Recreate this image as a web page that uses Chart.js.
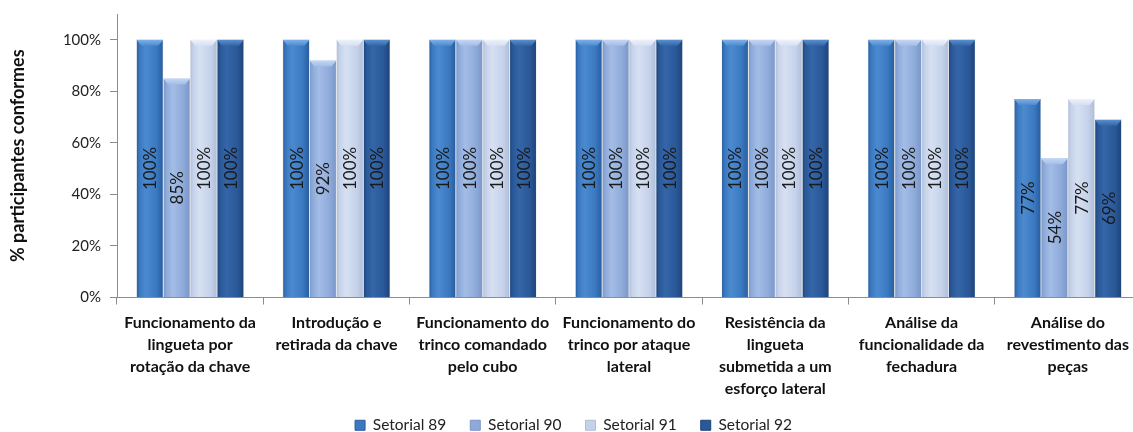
<!DOCTYPE html>
<html><head><meta charset="utf-8">
<script src="https://cdn.jsdelivr.net/npm/chart.js@4.4.1/dist/chart.umd.min.js"></script>
<style>html,body{margin:0;padding:0;overflow:hidden;background:#fff}#wrap{width:1141px;height:432px}</style>
</head><body><div id="wrap"><canvas id="c" width="1141" height="432"></canvas></div>
<script>
const categories = [
  ["Funcionamento da","lingueta por","rotação da chave"],
  ["Introdução e","retirada da chave"],
  ["Funcionamento do","trinco comandado","pelo cubo"],
  ["Funcionamento do","trinco por ataque","lateral"],
  ["Resistência da","lingueta","submetida a um","esforço lateral"],
  ["Análise da","funcionalidade da","fechadura"],
  ["Análise do","revestimento das","peças"]
];
const seriesNames = ["Setorial 89","Setorial 90","Setorial 91","Setorial 92"];
const setorial89 = [100,100,100,100,100,100,77];
const setorial90 = [85,92,100,100,100,100,54];
const setorial91 = [100,100,100,100,100,100,77];
const setorial92 = [100,100,100,100,100,100,69];
const yTicks = [0,20,40,60,80,100];

const palettes = [
  {edge:'#285c9c', mid:'#3a78c0', hi:'#4c8ad0', cap:'#7fb0e6'},
  {edge:'#7a96c8', mid:'#8eaad9', hi:'#a3bde6', cap:'#c4d8f4'},
  {edge:'#aebdd8', mid:'#c5d2ea', hi:'#d6e0f2', cap:'#edf2fa'},
  {edge:'#1d4479', mid:'#2a5898', hi:'#3466a8', cap:'#5a8fd0'}
];
const catPct = 0.735;
const FONT = 'Lato, "Open Sans", sans-serif';

function barGradient(ctx){
  const chart = ctx.chart;
  const p = palettes[ctx.datasetIndex];
  const xs = chart.scales && chart.scales.x;
  if(!xs || !chart.chartArea) return p.mid;
  const catW = xs.width / categories.length;
  const bw = catW*catPct/4;
  const c = xs.getPixelForValue(ctx.dataIndex);
  const left = c - catW*catPct/2 + ctx.datasetIndex*bw;
  const g = chart.ctx.createLinearGradient(left,0,left+bw,0);
  g.addColorStop(0,p.edge);
  g.addColorStop(0.12,p.mid);
  g.addColorStop(0.35,p.hi);
  g.addColorStop(0.75,p.mid);
  g.addColorStop(1,p.edge);
  return g;
}

const labelPlugin = {
  id:'vlabels',
  afterDatasetsDraw(chart){
    const c = chart.ctx;
    chart.data.datasets.forEach((ds,di)=>{
      const meta = chart.getDatasetMeta(di);
      meta.data.forEach((bar,i)=>{
        const p = palettes[di];
        const {x,y,base,width} = bar.getProps(['x','y','base','width'],true);
        const h = 6;
        c.save();
        c.beginPath();
        c.moveTo(x-width/2,y);
        c.lineTo(x+width/2,y);
        c.lineTo(x+width/2-5,y+h);
        c.lineTo(x-width/2+5,y+h);
        c.closePath();
        const g = c.createLinearGradient(0,y,0,y+h);
        g.addColorStop(0,p.cap); g.addColorStop(1,p.hi);
        c.fillStyle = g; c.fill();
        c.restore();
        c.save();
        c.translate(x,(y+base)/2);
        c.rotate(-Math.PI/2);
        c.font = '17px '+FONT;
        c.fillStyle = '#1a1a1a';
        c.textAlign='center'; c.textBaseline='middle';
        c.fillText(ds.data[i]+'%',0,1);
        c.restore();
      });
    });
  }
};

const allSeries = [setorial89,setorial90,setorial91,setorial92];
new Chart(document.getElementById('c'),{
  type:'bar',
  data:{
    labels:categories,
    datasets: allSeries.map((d,i)=>({
      label:seriesNames[i], data:d,
      backgroundColor:barGradient,
      borderColor:'rgba(150,160,175,0.6)', borderWidth:{left:0.5,right:0.5,top:0,bottom:0},
      barPercentage:1.0, categoryPercentage:catPct
    }))
  },
  options:{
    responsive:false, animation:false,
    layout:{padding:{top:14,right:0,left:6,bottom:-11}},
    plugins:{
      legend:{position:'bottom',
        labels:{font:{family:FONT,size:15.5},color:'#222',boxWidth:10,boxHeight:10,padding:24,
          generateLabels(chart){
            return chart.data.datasets.map((ds,i)=>({text:ds.label,fillStyle:palettes[i].mid,strokeStyle:palettes[i].edge,lineWidth:1,datasetIndex:i,fontColor:'#222'}));
          }}
      },
      tooltip:{enabled:false}
    },
    scales:{
      x:{
        grid:{display:true,drawOnChartArea:false,drawTicks:true,tickLength:7,offset:true,color:'#8c8c8c'},
        border:{display:true,color:'#8c8c8c',width:1},
        ticks:{font:{family:FONT,size:16,weight:'bold',lineHeight:'22px'},color:'#111',maxRotation:0,minRotation:0,autoSkip:false,padding:7},
        afterFit(s){ s.height = 96; s._computeLabelArea = () => undefined; }
      },
      y:{
        min:0,max:110,
        afterBuildTicks(s){ s.ticks = yTicks.map(v=>({value:v})); },
        grid:{display:true,drawOnChartArea:false,drawTicks:true,tickLength:7,color:'#8c8c8c'},
        border:{display:true,color:'#8c8c8c',width:1},
        ticks:{font:{family:FONT,size:15},color:'#222',padding:9,callback:v=>v+'%'},
        title:{display:true,text:'% participantes conformes',font:{family:FONT,size:18,weight:'bold'},color:'#111',padding:{top:1,bottom:10}},
        afterFit(s){ s.width = 111; s.paddingTop = 0; s.paddingBottom = 0; }
      }
    }
  },
  plugins:[labelPlugin]
});
</script></body></html>
